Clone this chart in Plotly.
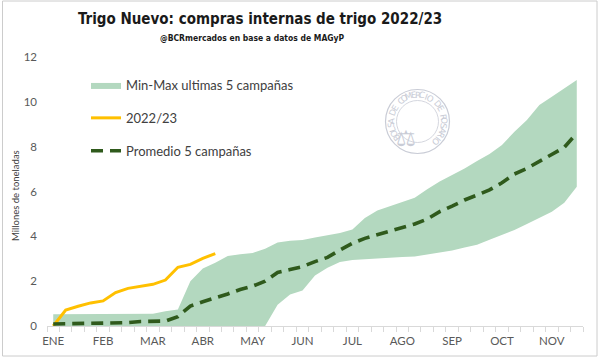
import math
import plotly.graph_objects as go

# ---------------- data ----------------
meses = ["ENE", "FEB", "MAR", "ABR", "MAY", "JUN", "JUL", "AGO", "SEP", "OCT", "NOV"]
pos_meses = [0, 4, 8, 12, 16, 20, 24, 28, 32, 36, 40]
semanas = list(range(43))

campana_2223 = [0.0, 0.71, 0.88, 1.03, 1.12, 1.49, 1.68, 1.77, 1.86, 2.05,
                2.62, 2.75, 3.02, 3.23]

promedio = [0.09, 0.10, 0.10, 0.10, 0.10, 0.12, 0.15, 0.20, 0.20, 0.22,
            0.42, 0.89, 1.08, 1.24, 1.43, 1.63, 1.78, 2.00, 2.39, 2.52,
            2.65, 2.87, 3.06, 3.39, 3.69, 3.91, 4.06, 4.24, 4.36, 4.55,
            4.77, 5.10, 5.35, 5.62, 5.84, 6.07, 6.39, 6.78, 7.03, 7.33,
            7.67, 7.97, 8.60]

maximo = [0.52, 0.52, 0.52, 0.52, 0.52, 0.52, 0.52, 0.52, 0.55, 0.66,
          0.74, 2.00, 2.57, 2.82, 3.12, 3.20, 3.26, 3.45, 3.72, 3.80,
          3.84, 3.95, 4.05, 4.15, 4.30, 4.82, 5.15, 5.33, 5.52, 5.72,
          6.10, 6.45, 6.74, 7.03, 7.36, 7.67, 8.07, 8.67, 9.19, 9.86,
          10.23, 10.60, 10.97]

minimo = [0.0, 0.0, 0.0, 0.0, 0.0, 0.0, 0.0, 0.0, 0.0, 0.0,
          0.0, 0.0, 0.0, 0.0, 0.0, 0.0, 0.0, 0.0, 0.95, 1.40,
          1.58, 2.25, 2.60, 2.85, 2.94, 2.98, 3.02, 3.05, 3.08, 3.10,
          3.18, 3.27, 3.37, 3.50, 3.63, 3.85, 4.06, 4.28, 4.55, 4.83,
          5.10, 5.50, 6.21]

# ---------------- layout geometry ----------------
W, H = 600, 360
L, R, T, B = 47, 17, 57, 34
PW, PH = W - L - R, H - T - B


def pxx(x):
    return (x - L) / PW


def pxy(y):
    return (H - B - y) / PH


GREEN_FILL = "#b3d8bf"
YELLOW = "#ffc000"
DKGREEN = "#2f5a1c"
TXT = "#595959"
COND = "DejaVu Sans Condensed, Liberation Sans Narrow, Arial Narrow"

fig = go.Figure()

fig.add_trace(go.Scatter(
    x=semanas, y=minimo, mode="lines", line=dict(width=0, color=GREEN_FILL),
    showlegend=False, hoverinfo="skip"))
fig.add_trace(go.Scatter(
    x=semanas, y=maximo, mode="lines", fill="tonexty", fillcolor=GREEN_FILL,
    line=dict(width=0, color=GREEN_FILL), name="Min-Max ultimas 5 campañas",
    legendgroup="a"))
fig.add_trace(go.Scatter(
    x=semanas[:len(campana_2223)], y=campana_2223, mode="lines",
    line=dict(width=3, color=YELLOW), name="2022/23", legendgroup="b"))
fig.add_trace(go.Scatter(
    x=semanas, y=promedio, mode="lines",
    line=dict(width=3.6, color=DKGREEN, dash="12px,7px"),
    name="Promedio 5 campañas", legendgroup="c"))

# watermark seal
CX, CY = 417.5, 121.5
SEAL = "#c9ccd6"
shapes = [
    dict(type="circle", xref="paper", yref="paper",
         x0=pxx(CX - 32), x1=pxx(CX + 32), y0=pxy(CY + 32), y1=pxy(CY - 32),
         line=dict(color=SEAL, width=1.2), layer="below"),
    dict(type="circle", xref="paper", yref="paper",
         x0=pxx(CX - 21), x1=pxx(CX + 21), y0=pxy(CY + 21), y1=pxy(CY - 21),
         line=dict(color=SEAL, width=0.8), layer="below"),
    dict(type="rect", xref="paper", yref="paper",
         x0=pxx(2.5), x1=pxx(597), y0=pxy(356), y1=pxy(1),
         line=dict(color="#cccccc", width=1), layer="below"),
]

annotations = []
seal_text = "BOLSA DE COMERCIO DE ROSARIO"
a0, a1 = 218.0, -49.0
n = len(seal_text)
for i, ch in enumerate(seal_text):
    if ch == " ":
        continue
    th = a0 + (a1 - a0) * i / (n - 1)
    r = 26.5
    xp = CX + r * math.cos(math.radians(th))
    yp = CY - r * math.sin(math.radians(th))
    annotations.append(dict(
        x=pxx(xp), y=pxy(yp), xref="paper", yref="paper", text=ch,
        showarrow=False, textangle=90 - th, xanchor="center", yanchor="middle",
        font=dict(size=8.5, color=SEAL, family="DejaVu Sans")))
annotations.append(dict(
    x=pxx(CX), y=pxy(CY + 2), xref="paper", yref="paper", text="⚖",
    showarrow=False, font=dict(size=22, color=SEAL, family="DejaVu Sans")))

# titles
annotations += [
    dict(x=pxx(260), y=pxy(19), xref="paper", yref="paper",
         text="<b>Trigo Nuevo: compras internas de trigo 2022/23</b>",
         showarrow=False, xanchor="center", yanchor="middle",
         font=dict(size=15, color="#1a1a1a", family=COND)),
    dict(x=pxx(252), y=pxy(38), xref="paper", yref="paper",
         text="<b>@BCRmercados en base a datos de MAGyP</b>",
         showarrow=False, xanchor="center", yanchor="middle",
         font=dict(size=8.5, color="#1a1a1a", family=COND)),
    dict(x=pxx(15), y=pxy(196), xref="paper", yref="paper",
         text="Millones de toneladas", textangle=-90, showarrow=False,
         xanchor="center", yanchor="middle",
         font=dict(size=9.5, color="#404040", family="Lato, Open Sans")),
]

fig.update_layout(
    width=W, height=H,
    margin=dict(l=L, r=R, t=T, b=B, pad=0),
    paper_bgcolor="white", plot_bgcolor="white",
    font=dict(family="Lato, Open Sans, sans-serif", color=TXT),
    showlegend=True,
    legend=dict(x=pxx(86), y=pxy(70), xanchor="left", yanchor="top",
                bgcolor="rgba(0,0,0,0)", tracegroupgap=13,
                font=dict(size=13, color="#404040", family="Lato, Open Sans"),
                itemwidth=30),
    shapes=shapes,
    annotations=annotations,
    xaxis=dict(range=[-0.5, 42.5], tickmode="array", tickvals=pos_meses,
               ticktext=meses, ticks="", showgrid=False, zeroline=False,
               showline=True, linecolor="#d9d9d9", linewidth=1,
               ticklabelstandoff=4,
               tickfont=dict(size=11.5, color=TXT),
               minor=dict(tick0=-0.5, dtick=1, ticks="outside", ticklen=5,
                          tickcolor="#d9d9d9", tickwidth=1, showgrid=False),
               fixedrange=True),
    yaxis=dict(range=[0, 12], tickmode="array", tickvals=[0, 2, 4, 6, 8, 10, 12],
               showgrid=False, zeroline=False, showline=False, ticks="",
               ticklabelstandoff=9,
               tickfont=dict(size=11.5, color=TXT), fixedrange=True),
)

fig.write_html("out.html", config={"displayModeBar": False},
               post_script="document.body.style.margin='0';document.body.style.overflow='hidden';")
